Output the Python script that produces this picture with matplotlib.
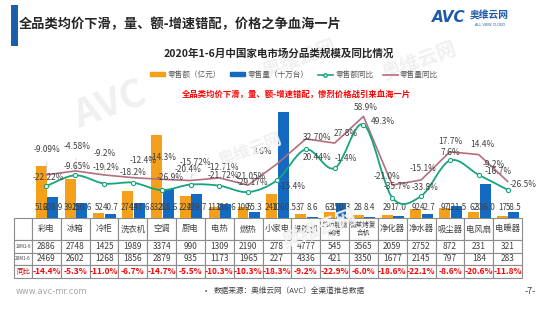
import numpy as np
import matplotlib.pyplot as plt
from matplotlib.patches import Patch, Rectangle, PathPatch
from matplotlib.lines import Line2D
from matplotlib.path import Path

plt.rcParams['font.family'] = ['Noto Sans CJK SC', 'DejaVu Sans']

# Data
categories = ['彩电', '冰箱', '冷柜', '洗衣机', '空调', '厨电', '电热', '燃热', '小家电', '洗碗机',
              '单功能微\n蒸烤', '微蒸烤复\n合机', '净化器', '净水器', '吸尘器', '电风扇', '电暖器']
sales_amount = [516, 392, 52, 274, 832, 224, 113, 109, 241, 37, 63, 28, 29, 92, 97, 62, 17]
sales_volume = [208.9, 150.6, 40.7, 147.6, 288.6, 239.7, 136.6, 55.3, 1060.5, 8.6,
                150.3, 8.4, 17.0, 42.7, 121.5, 336.0, 58.5]
amount_yoy = ['-22.22', '-9.65', '-19.2', '-18.2', '-26.9', '-20.4', '-21.72', '-29.17', '-15.4',
              '20.44', '-1.4', '49.3', '-35.7', '-33.8', '7.6', '-9.2', '-26.5']
volume_yoy = ['-9.09', '-4.58', '-9.2', '-12.4', '-14.3', '-15.72', '-12.71', '-21.05', '3.6',
              '32.70', '27.8', '58.9', '-21.0', '-15.1', '17.7', '14.4', '-16.7']
row_labels = ['19M1-6', '20M1-6', '同比']
price_19 = [2886, 2748, 1425, 1989, 3374, 990, 1309, 2190, 278, 4777, 545, 3565, 2059, 2752, 872, 231, 321]
price_20 = [2469, 2602, 1268, 1856, 2879, 935, 1173, 1965, 227, 4336, 421, 3350, 1677, 2145, 797, 184, 283]
price_yoy = ['-14.4%', '-5.3%', '-11.0%', '-6.7%', '-14.7%', '-5.5%', '-10.3%', '-10.3%', '-18.3%',
             '-9.2%', '-22.9%', '-6.0%', '-18.6%', '-22.1%', '-8.6%', '-20.6%', '-11.8%']

# label offsets (pixels)
vol_off = [(1, 25), (2, 24), (1, 21), (10, 17), (1, 22), (5, 18), (4, 10), (2, 9), (-14, 12),
           (11, 1), (11, 10), (2, 9), (-5, 9), (2, 11), (0, 10), (4, 10), (-9, 10)]
amt_off = [(2, 9), (2, 9), (2, 16), (0, 10), (8, 13), (-2, 15), (4, 10), (4, 10), (15, -6),
           (11, -8), (11, 10), (19, 3), (5, 11), (4, 9), (0, 8), (15, 10), (16, 5)]

c_orange = '#f5a01a'
c_blue = '#1469c0'
c_green = '#17a47e'
c_mauve = '#b46e7e'
c_text = '#404040'

W, H = 550, 309
fig = plt.figure(figsize=(5.5, 3.09), dpi=100)
fig.patch.set_facecolor('white')

# watermarks
for (wx, wy, s, fs) in [(110, 105, 'AVC', 28), (300, 60, '奥维云网', 14), (420, 62, '奥维云网', 14),
                        (320, 230, '奥维云网', 14), (250, 150, '奥维云网', 12)]:
    fig.text(wx / W, 1 - wy / H, s, fontsize=fs, color='#f0f0f0', weight='bold',
             rotation=20, ha='center', va='center', zorder=0)

# header
fig.patches.append(Rectangle((11 / W, 1 - 46 / H), 7 / W, 41 / H, transform=fig.transFigure,
                             facecolor='#1b5faa', edgecolor='none'))
fig.text(19 / W, 1 - 24 / H, '全品类均价下滑，量、额-增速错配，价格之争血海一片',
         fontsize=9.5, weight='bold', color='#262626', va='center', ha='left')
fig.text(432 / W, 1 - 17 / H, 'AVC', fontsize=11, weight='bold', style='italic',
         color='#1e5aa8', va='center', ha='left', family='DejaVu Sans')
fig.text(470 / W, 1 - 16 / H, '奥维云网', fontsize=7, weight='bold', color='#1e5aa8',
         va='center', ha='left')
fig.text(490 / W, 1 - 25 / H, 'ALL VIEW CLOUD', fontsize=2.5, color='#1e5aa8',
         va='center', ha='center', family='DejaVu Sans')

fig.text(279 / W, 1 - 53 / H, '2020年1-6月中国家电市场分品类规模及同比情况',
         fontsize=7.6, weight='bold', color='#262626', ha='center', va='center')
fig.text(296 / W, 1 - 94 / H, '全品类均价下滑，量、额-增速错配，惨烈价格战引来血海一片',
         fontsize=6, weight='bold', color='#ff0000', ha='center', va='center')

# footer
fig.text(16 / W, 1 - 292 / H, 'www.avc-mr.com', fontsize=6, color='#a6a6a6', va='center',
         family='DejaVu Sans')
fig.text(202 / W, 1 - 291 / H, '•', fontsize=6, color=c_text, va='center')
fig.text(214 / W, 1 - 291 / H, '数据来源：奥维云网（AVC）全渠道推总数据', fontsize=5.5,
         color=c_text, va='center')
fig.text(530 / W, 1 - 292 / H, '-7-', fontsize=6.5, color=c_text, va='center', ha='center')

# main axes
ax = fig.add_axes([32 / W, 1 - 218 / H, 490 / W, 143 / H])
ax.set_xlim(-0.5, len(categories) - 0.5)
ax.set_ylim(0, 1430)
ax.axis('off')

x = np.arange(len(categories))
bw = 0.38
ax.bar(x - 0.18, sales_amount, bw, color=c_orange, zorder=2)
ax.bar(x + 0.22, sales_volume, bw, color=c_blue, zorder=2)
for i in range(len(categories)):
    ax.annotate(str(sales_amount[i]), (x[i] - 0.18, 0), xytext=(0, 10), textcoords='offset pixels',
                ha='center', va='center', fontsize=5.8, color=c_text, zorder=5)
    ax.annotate('%.1f' % sales_volume[i], (x[i] + 0.22, 0), xytext=(0, 10),
                textcoords='offset pixels', ha='center', va='center', fontsize=5.8, color=c_text,
                zorder=5)

# table
cell_text = [[''] + categories,
             [row_labels[0]] + [str(v) for v in price_19],
             [row_labels[1]] + [str(v) for v in price_20],
             [row_labels[2]] + price_yoy]
col_w = [18] + [28.8] * len(categories)
tbl = ax.table(cellText=cell_text, cellLoc='center', colWidths=col_w,
               bbox=[-18 / 490, -60 / 143, 508 / 490, 60 / 143])
tbl.auto_set_font_size(False)
row_h = [22, 12.7, 12.7, 12.7]
for (r, c), cell in tbl.get_celld().items():
    cell.set_height(row_h[r])
    cell.set_edgecolor('#8c8c8c')
    cell.set_linewidth(0.8)
    cell.set_clip_on(False)
    t = cell.get_text()
    t.set_color(c_text)
    t.set_fontsize(6)
    if r == 0 and '\n' in cell_text[r][c]:
        t.set_fontsize(4.8)
        t.set_linespacing(1.1)
    if c == 0:
        t.set_fontsize(3.3)
    if r == 3:
        t.set_color('#ff0000')
        t.set_weight('bold')
        if c == 0:
            t.set_fontsize(5)
            t.set_weight('normal')
            t.set_color('#c00000')

# yoy lines
ax2 = ax.twinx()
ax2.set_ylim(-51 / 0.86, 92 / 0.86)
ax2.axis('off')
amt = np.array([float(v) for v in amount_yoy])
vol = np.array([float(v) for v in volume_yoy])


def smooth_path(xs, ys):
    verts = [(xs[0], ys[0])]
    codes = [Path.MOVETO]
    n = len(xs)
    for i in range(n - 1):
        xa, ya = (xs[i - 1], ys[i - 1]) if i > 0 else (xs[i], ys[i])
        xb, yb = (xs[i + 2], ys[i + 2]) if i + 2 < n else (xs[i + 1], ys[i + 1])
        c1 = (xs[i] + (xs[i + 1] - xa) / 6, ys[i] + (ys[i + 1] - ya) / 6)
        c2 = (xs[i + 1] - (xb - xs[i]) / 6, ys[i + 1] - (yb - ys[i]) / 6)
        verts += [c1, c2, (xs[i + 1], ys[i + 1])]
        codes += [Path.CURVE4] * 3
    return Path(verts, codes)


ax2.plot(x, vol, color=c_mauve, lw=1.2, zorder=3)
ax2.add_patch(PathPatch(smooth_path(x, amt), fill=False, edgecolor=c_green, lw=1.3, zorder=4))
ax2.plot(x, amt, 'o', ms=3, mfc='white', mec=c_green, mew=0.8, zorder=5)

for i in range(len(categories)):
    dx, dy = vol_off[i]
    arrow = dict(arrowstyle='-', color='#cfcfcf', lw=0.5, shrinkA=3, shrinkB=1) if dy > 16 else None
    ax2.annotate(volume_yoy[i] + '%', (x[i], vol[i]), xytext=(dx, dy), textcoords='offset pixels',
                 ha='center', va='center', fontsize=6, color=c_text, arrowprops=arrow, zorder=6)
    dx, dy = amt_off[i]
    ax2.annotate(amount_yoy[i] + '%', (x[i], amt[i]), xytext=(dx, dy), textcoords='offset pixels',
                 ha='center', va='center', fontsize=6, color=c_text, zorder=6)

# legend
handles = [Patch(color=c_orange), Patch(color=c_blue),
           Line2D([], [], color=c_green, marker='o', ms=2.5, mfc='white', mec=c_green, lw=1.2),
           Line2D([], [], color=c_mauve, lw=1.2)]
labels = ['零售额（亿元）', '零售量（十万台）', '零售额同比', '零售量同比']
fig.legend(handles, labels, loc='center', bbox_to_anchor=(294 / W, 1 - 75 / H), ncol=4,
           frameon=False, fontsize=5.5, labelcolor='#595959', handlelength=2.0, handleheight=0.5,
           columnspacing=1.2, handletextpad=0.3)

fig.savefig('out.png', dpi=100)
